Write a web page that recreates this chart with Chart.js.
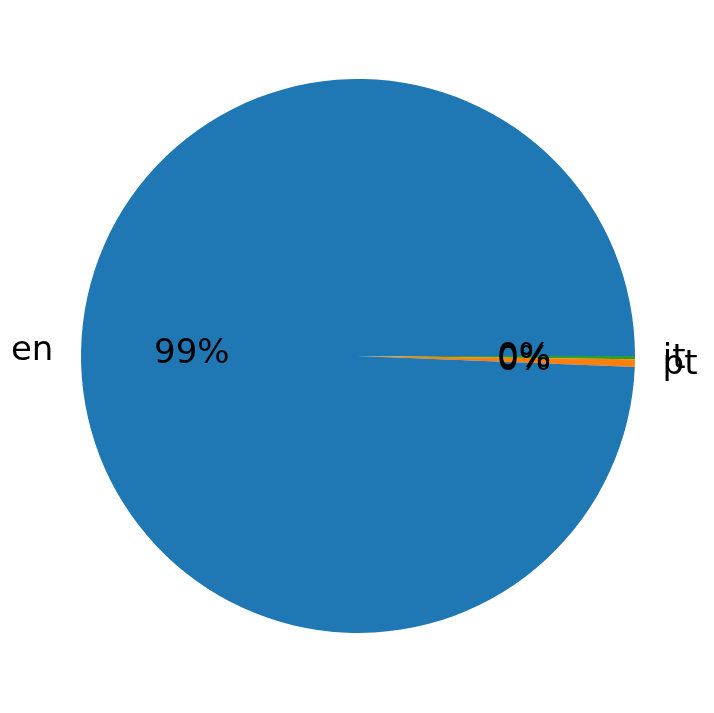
<!DOCTYPE html>
<html>
<head>
<meta charset="utf-8">
<script src="https://cdn.jsdelivr.net/npm/chart.js@4"></script>
<style>
  html, body { margin: 0; padding: 0; background: #fff; }
  #wrap { width: 714px; height: 713px; }
</style>
</head>
<body>
<div id="wrap"><canvas id="chart" width="714" height="713"></canvas></div>
<script>
// data, in the order matplotlib draws it (counter-clockwise from 3 o'clock)
const languages = ["en", "pt", "it"];
const counts = [2207, 10, 4];
const colors = ["#1f77b4", "#ff7f0e", "#2ca02c"];

const FONT = "34px 'DejaVu Sans'";

// Chart.js goes clockwise, so feed the slices reversed and start at 3 o'clock
const labelsCw = languages.slice().reverse();
const countsCw = counts.slice().reverse();
const colorsCw = colors.slice().reverse();

const total = counts.reduce((a, b) => a + b, 0);

const pieLabels = {
  id: "pieLabels",
  afterDatasetsDraw(chart) {
    const ctx = chart.ctx;
    const meta = chart.getDatasetMeta(0);
    ctx.save();
    ctx.font = FONT;
    ctx.fillStyle = "#000";
    ctx.textBaseline = "middle";
    meta.data.forEach((arc, i) => {
      const p = arc.getProps(["x", "y", "startAngle", "endAngle", "outerRadius"], true);
      const mid = (p.startAngle + p.endAngle) / 2;
      const r = p.outerRadius;
      // percentage at 0.6 r
      const pct = Math.round(countsCw[i] / total * 100) + "%";
      ctx.textAlign = "center";
      ctx.fillText(pct, p.x + Math.cos(mid) * r * 0.6, p.y + Math.sin(mid) * r * 0.6 + 1);
      // label at 1.1 r
      const lx = p.x + Math.cos(mid) * r * 1.1;
      const ly = p.y + Math.sin(mid) * r * 1.1;
      ctx.textAlign = Math.cos(mid) >= 0 ? "left" : "right";
      ctx.fillText(labelsCw[i], lx, ly + 1);
    });
    ctx.restore();
  }
};

new Chart(document.getElementById("chart"), {
  type: "pie",
  data: {
    labels: labelsCw,
    datasets: [{
      data: countsCw,
      backgroundColor: colorsCw,
      borderWidth: 0
    }]
  },
  options: {
    responsive: false,
    animation: false,
    rotation: 90,
    layout: { padding: { left: 81, right: 79, top: 79, bottom: 80 } },
    plugins: {
      legend: { display: false },
      tooltip: { enabled: false }
    }
  },
  plugins: [pieLabels]
});
</script>
</body>
</html>
